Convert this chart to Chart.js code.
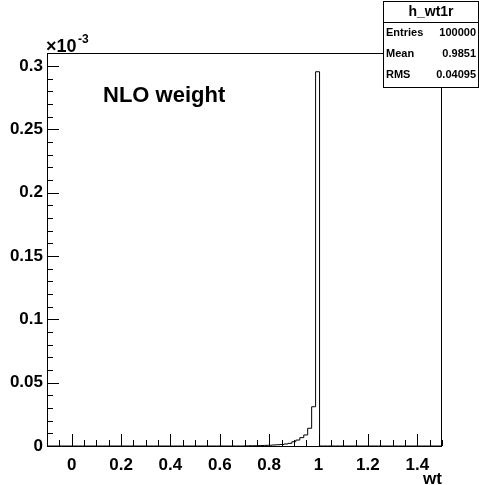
<!DOCTYPE html>
<html>
<head>
<meta charset="utf-8">
<script src="https://cdn.jsdelivr.net/npm/chart.js@4.4.0/dist/chart.umd.min.js"></script>
<style>
  html, body { margin: 0; padding: 0; background: #fff; }
  canvas { display: block; }
</style>
</head>
<body>
<canvas id="chart" width="479" height="485"></canvas>
<script>
// h_wt1r : 100 bins from -0.1 to 1.5, contents in units of 1e-3
const binLow = -0.1;
const binHigh = 1.5;
const binContents = [
  0, 0, 0, 0, 0, 0, 0, 0, 0, 0,
  0, 0, 0, 0, 0, 0, 0, 0, 0, 0,
  0, 0, 0, 0, 0, 0, 0, 0, 0, 0,
  0, 0, 0, 0, 0, 0, 0, 0, 0, 0,
  0, 0, 0, 0, 0, 0, 0, 0, 0, 0,
  0.0001, 0.0002, 0.0002, 0.0003, 0.0004, 0.0005, 0.0006, 0.0008, 0.001, 0.0012,
  0.0016, 0.0021, 0.0034, 0.0047, 0.0066, 0.0087, 0.014, 0.031, 0.2955, 0,
  0, 0, 0, 0, 0, 0, 0, 0, 0, 0,
  0, 0, 0, 0, 0, 0, 0, 0, 0, 0,
  0, 0, 0, 0, 0, 0, 0, 0, 0, 0
];
const yMax = 0.3103;

const xTickLabels = [0, 0.2, 0.4, 0.6, 0.8, 1, 1.2, 1.4];
const yTickLabels = [0, 0.05, 0.1, 0.15, 0.2, 0.25, 0.3];

const histTitle = 'h_wt1r';
const statsLabels = ['Entries', 'Mean', 'RMS'];
const statsValues = ['100000', '0.9851', '0.04095'];

const FONT = '"Liberation Sans", Arial, Helvetica, sans-serif';

// bin low edges as points, stepped so each bin keeps its own height
const binWidth = (binHigh - binLow) / binContents.length;
const histPoints = binContents.map((v, i) => ({ x: binLow + i * binWidth, y: v }));
histPoints.push({ x: binHigh, y: 0 });

const rootFrame = {
  id: 'rootFrame',
  afterDatasetsDraw(chart) {
    const ctx = chart.ctx;
    const a = chart.chartArea;
    const xs = chart.scales.x, ys = chart.scales.y;
    ctx.save();
    ctx.strokeStyle = '#000';
    ctx.lineWidth = 1;

    // frame
    ctx.strokeRect(Math.round(a.left) + 0.5, Math.round(a.top) + 0.5,
      Math.round(a.right - a.left) - 1, Math.round(a.bottom - a.top));

    // ticks drawn inwards, ROOT style
    ctx.beginPath();
    for (let v = -0.1; v <= 1.5001; v += 0.05) {
      const major = Math.abs(v / 0.2 - Math.round(v / 0.2)) < 1e-6;
      const px = Math.round(xs.getPixelForValue(v)) + 0.5;
      ctx.moveTo(px, a.bottom);
      ctx.lineTo(px, a.bottom - (major ? 12 : 6));
    }
    for (let v = 0; v <= yMax; v += 0.01) {
      const major = Math.abs(v / 0.05 - Math.round(v / 0.05)) < 1e-6;
      const py = Math.round(ys.getPixelForValue(v)) + 0.5;
      ctx.moveTo(a.left, py);
      ctx.lineTo(a.left + (major ? 12 : 6), py);
    }
    ctx.stroke();

    // exponent
    ctx.fillStyle = '#000';
    ctx.textBaseline = 'alphabetic';
    ctx.textAlign = 'left';
    ctx.font = 'bold 18px ' + FONT;
    ctx.fillText('\u00d710', 46, 52);
    ctx.font = 'bold 12px ' + FONT;
    ctx.fillText('-3', 78, 43);

    // label inside the pad
    ctx.font = 'bold 22px ' + FONT;
    ctx.fillText('NLO weight', 103, 102);

    // axis title
    ctx.textAlign = 'right';
    ctx.font = 'bold 17px ' + FONT;
    ctx.fillText('wt', 442, 484);

    // stats box
    const bx = 383.5, by = 1.5, bw = 95, bh = 86;
    ctx.fillStyle = '#fff';
    ctx.fillRect(bx, by, bw, bh);
    ctx.strokeRect(bx, by, bw, bh);
    ctx.beginPath();
    ctx.moveTo(bx, 22.5);
    ctx.lineTo(bx + bw, 22.5);
    ctx.stroke();
    ctx.fillStyle = '#000';
    ctx.textBaseline = 'middle';
    ctx.textAlign = 'center';
    ctx.font = 'bold 14px ' + FONT;
    ctx.fillText(histTitle, bx + bw / 2, 12);
    ctx.font = 'bold 11px ' + FONT;
    const rowY = [33, 54, 75];
    statsLabels.forEach((lab, i) => {
      ctx.textAlign = 'left';
      ctx.fillText(lab, 386, rowY[i]);
      ctx.textAlign = 'right';
      ctx.fillText(statsValues[i], 476, rowY[i]);
    });
    ctx.restore();
  }
};

const fmt = v => String(parseFloat(v.toFixed(2)));

new Chart(document.getElementById('chart').getContext('2d'), {
  type: 'line',
  data: {
    datasets: [{
      data: histPoints,
      stepped: 'before',
      borderColor: '#000',
      borderWidth: 1,
      pointRadius: 0,
      fill: false
    }]
  },
  options: {
    responsive: false,
    animation: false,
    devicePixelRatio: 1,
    layout: { padding: { top: 53, right: 37, left: 0, bottom: 0 } },
    plugins: { legend: { display: false }, tooltip: { enabled: false } },
    scales: {
      x: {
        type: 'linear',
        min: binLow,
        max: binHigh,
        grid: { display: false, drawTicks: false },
        border: { display: false },
        afterBuildTicks: s => { s.ticks = xTickLabels.map(v => ({ value: v })); },
        afterFit: s => { s.height = 39; },
        ticks: {
          autoSkip: false,
          maxRotation: 0,
          padding: 9,
          color: '#000',
          font: { family: FONT, size: 17, weight: 'bold' },
          callback: v => fmt(v)
        }
      },
      y: {
        min: 0,
        max: yMax,
        grid: { display: false, drawTicks: false },
        border: { display: false },
        afterBuildTicks: s => { s.ticks = yTickLabels.map(v => ({ value: v })); },
        afterFit: s => { s.width = 47; },
        ticks: {
          autoSkip: false,
          padding: 4,
          color: '#000',
          font: { family: FONT, size: 17, weight: 'bold' },
          callback: v => fmt(v)
        }
      }
    }
  },
  plugins: [rootFrame]
});
</script>
</body>
</html>
